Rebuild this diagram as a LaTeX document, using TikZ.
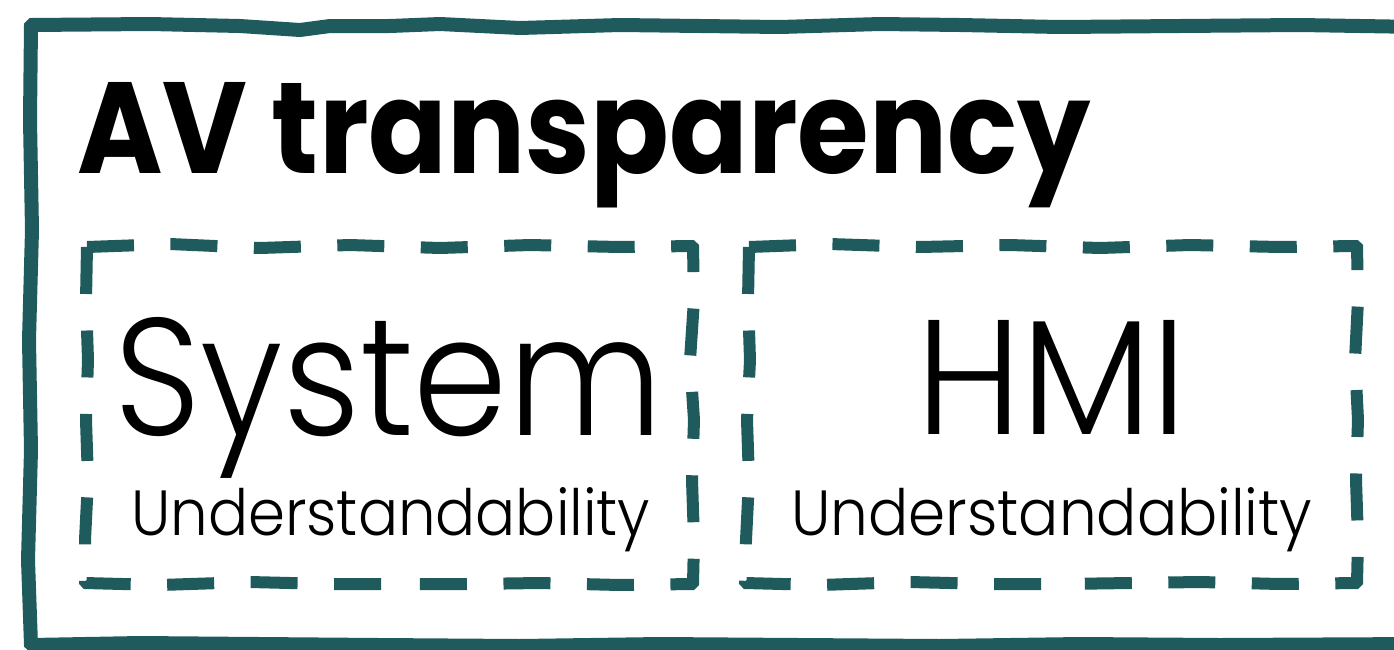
\documentclass[tikz,border=0pt]{standalone}
\usepackage{fontspec}
\setmainfont{Poppins}[UprightFont=* Light, BoldFont=* Bold]
\usepackage{graphicx}
\definecolor{teal}{RGB}{31,90,93}
\begin{document}
\begin{tikzpicture}[x=1pt,y=-1pt,
  frame/.style={draw=teal,line width=14pt,line join=miter,rounded corners=1.5pt},
  dashbox/.style={draw=teal,line width=12pt,line join=miter,rounded corners=1.5pt,dash pattern=on 47pt off 36.5pt},
  txt/.style={inner sep=0pt,anchor=base west}]
\useasboundingbox (0,0) rectangle (1394,649);
% hand-drawn outer frame, open to the right
\draw[frame] (1420,27) -- (1300,25) -- (1180,26) -- (1060,27) -- (960,25) -- (880,24)
  -- (780,27) -- (700,26) -- (620,25) -- (520,28) -- (440,24) -- (390,26) -- (330,26)
  -- (300,30) -- (240,26) -- (150,24) -- (31,25)
  -- (30,120) -- (32,230) -- (29,340) -- (31,450) -- (28,560) -- (31,645)
  -- (140,643) -- (260,644) -- (380,645) -- (520,646) -- (660,644) -- (800,645)
  -- (940,646) -- (1080,644) -- (1220,645) -- (1420,644);
% left dashed box
\draw[dashbox] (87,247) -- (170,244) -- (260,248) -- (350,245) -- (440,248) -- (530,245)
  -- (620,247) -- (693,246) -- (694,300) -- (690,360) -- (694,420) -- (692,480)
  -- (694,540) -- (693,584) -- (620,585) -- (540,583) -- (470,584) -- (400,584);
\draw[dashbox] (87,247) -- (86,300) -- (88,360) -- (86,420) -- (88,480) -- (85,540)
  -- (85,583) -- (160,585) -- (250,582) -- (330,584) -- (400,584);
% right dashed box
\draw[dashbox] (749,247) -- (830,244) -- (920,247) -- (1010,245) -- (1100,248) -- (1190,245)
  -- (1280,247) -- (1357,246) -- (1358,300) -- (1355,360) -- (1358,420) -- (1356,480)
  -- (1358,540) -- (1357,583) -- (1280,584) -- (1200,582) -- (1130,583) -- (1062,584);
\draw[dashbox] (749,247) -- (748,300) -- (750,360) -- (747,420) -- (749,480) -- (746,540)
  -- (745,583) -- (820,585) -- (910,582) -- (990,584) -- (1062,584);
% texts
\node[txt] (title) at (77,173) {\resizebox{1013pt}{91pt}{\bfseries AV transparency}};
\node[txt] (sys) at (114,435) {\resizebox{548pt}{118pt}{System}};
\node[txt] (sysu) at (131,535) {\resizebox{519pt}{48pt}{Understandability}};
\node[txt] (hmi) at (916,434) {\resizebox{271pt}{114pt}{HMI}};
\node[txt] (hmiu) at (791,535) {\resizebox{521pt}{48pt}{Understandability}};
\end{tikzpicture}
\end{document}
